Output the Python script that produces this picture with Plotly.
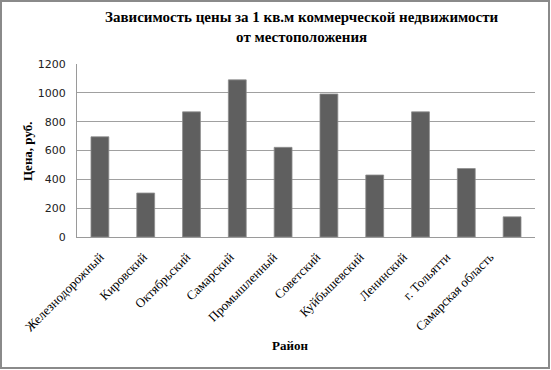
import plotly.graph_objects as go

districts = ["Железнодорожный", "Кировский", "Октябрьский", "Самарский",
             "Промышленный", "Советский", "Куйбышевский", "Ленинский",
             "г. Тольятти", "Самарская область"]
prices = [695, 305, 868, 1090, 622, 992, 430, 868, 475, 140]

title_text = "Зависимость цены за 1 кв.м коммерческой недвижимости<br>от местоположения"
x_title = "Район"
y_title = "Цена, руб."
y_ticks = [0, 200, 400, 600, 800, 1000, 1200]

W, H = 551, 370
L, R, T, B = 77, 16, 64, 133
pw, ph = W - L - R, H - T - B

def px(x):
    return (x - L) / pw

def py(y):
    return (H - B - y) / ph

fig = go.Figure()
fig.add_trace(go.Bar(
    x=districts, y=prices,
    marker=dict(color="#5f5f5f", line=dict(color="#8e8e8e", width=0.8)),
    width=0.39, hoverinfo="x+y",
))
# helper trace carrying the (slightly tighter spaced) category labels
fig.add_trace(go.Scatter(
    x=districts, y=prices, xaxis="x2", mode="markers",
    marker=dict(opacity=0), hoverinfo="skip", showlegend=False,
))

fig.update_layout(
    width=W, height=H,
    margin=dict(l=L, r=R, t=T, b=B, autoexpand=False),
    paper_bgcolor="white", plot_bgcolor="white",
    showlegend=False,
    xaxis=dict(showticklabels=False,
               showline=True, linecolor="#9a9a9a", linewidth=1, ticks="",
               showgrid=False, automargin=False),
    xaxis2=dict(overlaying="x", side="bottom", anchor="y",
                range=[-0.531, 10.04], type="category",
                tickangle=-45, tickfont=dict(family="Liberation Serif", size=13, color="black"),
                showline=False, showgrid=False, ticks="", zeroline=False,
                automargin=False, ticklabelstandoff=9),
    yaxis=dict(range=[0, 1200], tickvals=y_ticks, ticks="",
               tickfont=dict(family="DejaVu Sans", size=11, color="#222"),
               showgrid=True, gridcolor="#a0a0a0", gridwidth=1,
               showline=True, linecolor="#9a9a9a", linewidth=1,
               zeroline=False, ticklabelstandoff=8, automargin=False),
    bargap=0.61,
)

fig.add_annotation(text="<b>" + title_text + "</b>", xref="paper", yref="paper",
                   x=px(302), y=py(27), xanchor="center", yanchor="middle",
                   showarrow=False,
                   font=dict(family="Liberation Serif", size=15, color="black"))
fig.add_annotation(text="<b>" + x_title + "</b>", xref="paper", yref="paper",
                   x=px(290), y=py(345), xanchor="center", yanchor="middle",
                   showarrow=False,
                   font=dict(family="Liberation Serif", size=13, color="black"))
fig.add_annotation(text="<b>" + y_title + "</b>", xref="paper", yref="paper",
                   x=px(27), y=py(151), xanchor="center", yanchor="middle",
                   showarrow=False, textangle=-90,
                   font=dict(family="Liberation Serif", size=13, color="black"))

# outer chart frame
fig.add_shape(type="rect", xref="paper", yref="paper",
              x0=px(1), x1=px(549), y0=py(368), y1=py(1),
              line=dict(color="#8a8a8a", width=2), fillcolor="rgba(0,0,0,0)", layer="above")

fig.write_html("out.html", config={"displayModeBar": False},
               post_script="document.body.style.margin='0';document.body.style.overflow='hidden';")
